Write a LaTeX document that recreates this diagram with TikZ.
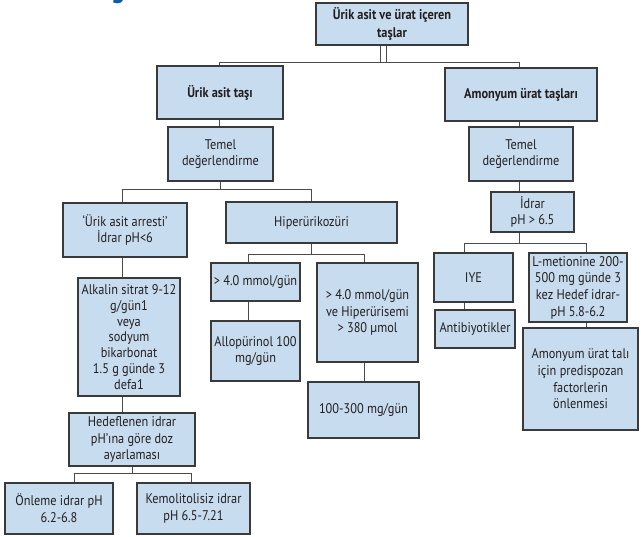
\documentclass[tikz,border=0pt]{standalone}
\usepackage{fontspec}
\setmainfont{PT Sans}[FakeStretch=0.88]
\definecolor{boxfill}{HTML}{C8DCEF}
\definecolor{boxline}{HTML}{3A3A3A}
\definecolor{linkline}{HTML}{4A4A4A}
\definecolor{inktext}{HTML}{231F20}
\definecolor{titleblue}{HTML}{0A5BA8}

\begin{document}
\begin{tikzpicture}[x=0.75pt,y=-0.75pt,
  box/.style={draw=boxline, fill=boxfill, line width=0.9pt, inner sep=0pt,
    align=center, text=inktext, font=\fontsize{10.5}{12.5}\selectfont},
  head/.style={box, font=\bfseries\fontsize{10.5}{13}\selectfont},
  corners/.style n args={4}{minimum width={(#3-#1)*0.75pt},
    minimum height={(#4-#2)*0.75pt}, at={({(#1+#3)/2},{(#2+#4)/2})}},
  link/.style={draw=linkline, line width=0.75pt}]

\useasboundingbox (0,0) rectangle (641,536);
\fill[white] (0,0) rectangle (641,536);

% heading cut by the page edge
\begin{scope}
  \clip (0,0) rectangle (641,536);
  \node[anchor=base, inner sep=0pt, text=titleblue,
    font=\bfseries\fontsize{22}{26}\selectfont] (ttl) at (118,-3) {g};
\end{scope}

% boxes
\node[head, corners={316}{3}{468}{45}]   (T) {Ürik asit ve ürat içeren\\taşlar};
\node[head, corners={157}{66}{283}{119}] (A) {Ürik asit taşı};
\node[head, corners={445}{68}{597}{121}] (B) {Amonyum ürat taşları};
\node[box, corners={168}{127}{273}{181}] (C) {Temel\\değerlendirme};
\node[box, corners={469}{127}{573}{181}] (D) {Temel\\değerlendirme};
\node[box, corners={63}{203}{187}{257}]  (E) {‘Ürik asit arresti’\\İdrar pH<6};
\node[box, corners={226}{202}{397}{243}] (F) {Hiperürikozüri};
\node[box, corners={211}{263}{300}{301}] (G) {> 4.0 mmol/gün};
\node[box, corners={317}{263}{418}{362}] (H) {> 4.0 mmol/gün\\ve Hiperürisemi\\> 380 µmol};
\node[box, corners={211}{321}{300}{381}] (I) {Allopürinol 100\\mg/gün};
\node[box, corners={308}{382}{419}{438}] (J) {100-300 mg/gün};
\node[box, corners={78}{278}{180}{396}, font=\fontsize{10.5}{11.8}\selectfont] (K)
  {Alkalin sitrat 9-12\\g/gün1\\veya\\sodyum\\bikarbonat\\1.5 g günde 3\\defa1};
\node[box, corners={69}{413}{195}{466}]  (L) {Hedeflenen idrar\\pH’ına göre doz\\ayarlaması};
\node[box, corners={5}{483}{113}{534}]   (M) {Önleme idrar pH\\6.2-6.8};
\node[box, corners={137}{483}{250}{534}] (N) {Kemolitolisiz idrar\\pH 6.5-7.21};
\node[box, corners={491}{192}{574}{232}] (O) {İdrar\\pH > 6.5};
\node[box, corners={434}{253}{513}{302}] (P) {IYE};
\node[box, corners={529}{253}{627}{322}] (Q) {L-metionine 200-\\500 mg günde 3\\kez Hedef idrar-\\pH 5.8-6.2};
\node[box, corners={435}{310}{515}{348}] (R) {Antibiyotikler};
\node[box, corners={523}{328}{638}{430}] (S) {Amonyum ürat talı\\için predispozan\\factorlerin\\önlenmesi};

% junction points
\coordinate (jT1) at (380,62);  \coordinate (jT2) at (386,62);
\coordinate (jA)  at (219,62);  \coordinate (jB)  at (519,62);
\coordinate (jC)  at (220,189); \coordinate (jE)  at (122,189); \coordinate (jF) at (311,189);
\coordinate (jF2) at (311,254); \coordinate (jG)  at (248,254); \coordinate (jH) at (364,254);
\coordinate (jL)  at (132,473); \coordinate (jM)  at (74,473);  \coordinate (jN) at (191,473);
\coordinate (jO)  at (519,243); \coordinate (jP)  at (464,243); \coordinate (jQ) at (586,243);

% connectors
\draw[link] (T.south -| jT1) -- (jT1);
\draw[link] (T.south -| jT2) -- (jT2);
\draw[link] (A.north -| jA) -- (jA) -- (jB) -- (B.north -| jB);
\draw[link] (A.south -| jA) -- (C.north -| jA);
\draw[link] (B.south -| jB) -- (D.north -| jB);

\draw[link] (C.south -| jC) -- (jC);
\draw[link] (E.north -| jE) -- (jE) -- (jF) -- (F.north -| jF);
\draw[link] (E.south -| jE) -- (K.north -| jE);
\draw[link] (K.south -| jE) -- (L.north -| jE);
\draw[link] (L.south -| jL) -- (jL);
\draw[link] (M.north -| jM) -- (jM) -- (jN) -- (N.north -| jN);

\draw[link] (F.south -| jF2) -- (jF2);
\draw[link] (G.north -| jG) -- (jG) -- (jH) -- (H.north -| jH);
\draw[link] (G.south -| jG) -- (I.north -| jG);
\draw[link] (H.south -| jH) -- (J.north -| jH);

\draw[link] (D.south -| jO) -- (O.north -| jO);
\draw[link] (O.south -| jO) -- (jO);
\draw[link] (P.north -| jP) -- (jP) -- (jQ) -- (Q.north -| jQ);
\draw[link] (P.south -| jP) -- (R.north -| jP);
\draw[link] (Q.south -| jQ) -- (S.north -| jQ);
\end{tikzpicture}
\end{document}
